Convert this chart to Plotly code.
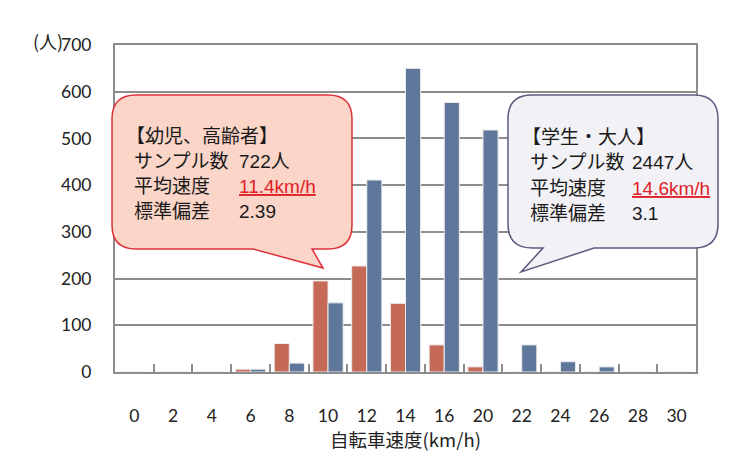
import plotly.graph_objects as go

categories = ["0", "2", "4", "6", "8", "10", "12", "14", "16", "20", "22", "24", "26", "28", "30"]
young_elderly = [0, 0, 0, 6, 61, 195, 227, 147, 58, 11, 0, 0, 0, 0, 0]
student_adult = [0, 0, 0, 6, 19, 148, 411, 650, 577, 518, 58, 22, 11, 0, 0]
y_ticks = [0, 100, 200, 300, 400, 500, 600, 700]

# screen geometry (the page body adds an 8px margin)
O = 8
W, H = 755, 463
L, R, T, B = 115, 696, 45, 372


def px(x):
    return (x - L) / (R - L)


def py(y):
    return (B - y) / (B - T)


def bubble(x0, y0, x1, y1, r, base_a, tip, base_b):
    s = f"M{px(x0 + r)},{py(y0)} L{px(x1 - r)},{py(y0)} "
    s += f"Q{px(x1)},{py(y0)} {px(x1)},{py(y0 + r)} "
    s += f"L{px(x1)},{py(y1 - r)} Q{px(x1)},{py(y1)} {px(x1 - r)},{py(y1)} "
    s += f"L{px(base_a)},{py(y1)} L{px(tip[0])},{py(tip[1])} L{px(base_b)},{py(y1)} "
    s += f"L{px(x0 + r)},{py(y1)} Q{px(x0)},{py(y1)} {px(x0)},{py(y1 - r)} "
    s += f"L{px(x0)},{py(y0 + r)} Q{px(x0)},{py(y0)} {px(x0 + r)},{py(y0)} Z"
    return s


fig = go.Figure()
fig.add_trace(go.Bar(x=categories, y=young_elderly, marker=dict(color="#C46A56", line=dict(color="#EDEDED", width=1)),
                     name="幼児、高齢者"))
fig.add_trace(go.Bar(x=categories, y=student_adult, marker=dict(color="#5E779B", line=dict(color="#EDEDED", width=1)),
                     name="学生・大人"))

grid = "#8C8C8C"
tick_font = dict(family="Lato, Noto Sans CJK JP", size=17.5, color="#222222")

fig.update_layout(
    width=W - O, height=H - O,
    margin=dict(l=L - O, r=W - R, t=T - O, b=H - B, pad=0),
    paper_bgcolor="white", plot_bgcolor="white",
    barmode="group", bargap=0.22, bargroupgap=0.0,
    showlegend=False,
    xaxis=dict(type="category", categoryorder="array", categoryarray=categories,
               showline=True, linecolor=grid, linewidth=2, mirror=True,
               ticks="inside", tickson="boundaries", ticklen=8, tickcolor=grid, tickwidth=1.5,
               showgrid=False, tickfont=tick_font, ticklabelstandoff=27,
               title=dict(text="自転車速度(km/h)", font=dict(family="Noto Sans CJK JP, Lato", size=18.5, color="#222222"),
                          standoff=6)),
    yaxis=dict(range=[0, 700], tickvals=y_ticks, showline=True, linecolor=grid, linewidth=2, mirror=True,
               showgrid=True, gridcolor=grid, gridwidth=1.5, ticks="", tickfont=tick_font,
               ticklabelstandoff=18, zeroline=False),
)

shapes = [
    dict(type="path", xref="paper", yref="paper", layer="above",
         path=bubble(112, 95, 352, 249, 24, 312, (323, 268), 253),
         fillcolor="#FBD5C7", line=dict(color="#E0303A", width=1.5)),
    dict(type="path", xref="paper", yref="paper", layer="above",
         path=bubble(508, 95, 718, 248, 24, 594, (521, 272), 543),
         fillcolor="#F2F2F6", line=dict(color="#5C5A7E", width=1.5)),
]
fig.update_layout(shapes=shapes)

bfont = dict(family="Liberation Sans, Noto Sans CJK JP", size=19, color="#1A1A1A")
red = "#E02028"


def note(x, y, text, color=None):
    f = dict(bfont)
    if color:
        f["color"] = color
    fig.add_annotation(x=px(x), y=py(y), xref="paper", yref="paper", text=text, showarrow=False,
                       xanchor="left", yanchor="middle", font=f)


left_labels = ["【幼児、高齢者】", "サンプル数", "平均速度", "標準偏差"]
left_values = ["", "722人", "11.4km/h", "2.39"]
right_labels = ["【学生・大人】", "サンプル数", "平均速度", "標準偏差"]
right_values = ["", "2447人", "14.6km/h", "3.1"]
left_rows = [136, 161, 186, 211]
right_rows = [137, 162, 188, 213]

for i in range(4):
    note(124 if i == 0 else 132, left_rows[i], left_labels[i])
    if left_values[i]:
        if i == 2:
            note(237, left_rows[i], f'<span style="text-decoration:underline">{left_values[i]}</span>', red)
        else:
            note(237, left_rows[i], left_values[i])
    note(520 if i == 0 else 528, right_rows[i], right_labels[i])
    if right_values[i]:
        if i == 2:
            note(630, right_rows[i], f'<span style="text-decoration:underline">{right_values[i]}</span>', red)
        else:
            note(630, right_rows[i], right_values[i])

fig.add_annotation(x=px(48), y=py(41), xref="paper", yref="paper", text="(人)", showarrow=False,
                   xanchor="center", yanchor="middle",
                   font=dict(family="Noto Sans CJK JP", size=18, color="#222222"))

fig.write_html("out.html")
